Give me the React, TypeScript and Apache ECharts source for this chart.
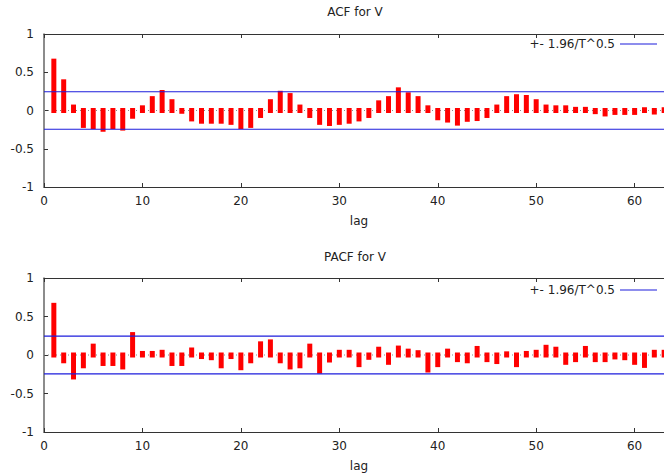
import React, { useEffect, useRef } from "react";
import * as echarts from "echarts";

const lags = [
  1, 2, 3, 4, 5, 6, 7, 8, 9, 10, 11, 12, 13, 14, 15, 16, 17, 18, 19, 20, 21,
  22, 23, 24, 25, 26, 27, 28, 29, 30, 31, 32, 33, 34, 35, 36, 37, 38, 39, 40,
  41, 42, 43, 44, 45, 46, 47, 48, 49, 50, 51, 52, 53, 54, 55, 56, 57, 58, 59,
  60, 61, 62, 63,
];

const acfValues = [
  0.645, 0.375, 0.045, -0.195, -0.21, -0.245, -0.21, -0.23, -0.075, 0.035,
  0.155, 0.235, 0.115, -0.01, -0.11, -0.14, -0.14, -0.14, -0.155, -0.21,
  -0.195, -0.065, 0.115, 0.225, 0.195, 0.045, -0.065, -0.155, -0.17, -0.155,
  -0.14, -0.11, -0.065, 0.1, 0.155, 0.27, 0.205, 0.155, 0.035, -0.095, -0.125,
  -0.165, -0.115, -0.105, -0.065, 0.045, 0.155, 0.18, 0.17, 0.115, 0.045,
  0.035, 0.035, 0.015, 0.015, -0.015, -0.045, -0.025, -0.025, -0.025, 0.01,
  -0.02, 0.01,
];

const pacfValues = [
  0.645, -0.075, -0.285, -0.14, 0.115, -0.11, -0.11, -0.155, 0.265, 0.02, 0.02,
  0.035, -0.11, -0.11, 0.065, -0.02, -0.035, -0.14, -0.02, -0.165, -0.075,
  0.145, 0.17, -0.075, -0.155, -0.14, 0.115, -0.21, -0.065, 0.035, 0.035,
  -0.125, -0.03, 0.075, -0.095, 0.09, 0.05, 0.03, -0.195, -0.125, 0.05, -0.06,
  -0.075, 0.085, -0.06, -0.085, 0.015, -0.125, 0.02, 0.035, 0.1, 0.075, -0.095,
  -0.06, 0.085, -0.06, -0.06, -0.025, -0.035, -0.095, -0.135, 0.035, 0.035,
];

const bound = 0.245; // 1.96 / T^0.5
const boundName = "+- 1.96/T^0.5";
const titles = ["ACF for V", "PACF for V"];
const xMin = 0;
const xMax = 64;

const FONT = "DejaVu Sans";
const TEXT = "#222";
const BLUE = "#1c1cdc";

export default function App() {
  const ref = useRef<HTMLDivElement>(null);

  useEffect(() => {
    if (!ref.current) return;
    const chart = echarts.init(ref.current, undefined, { renderer: "svg" });

    const grids = [
      { left: 44, top: 34, width: 630, height: 153, outerBoundsMode: "none", containLabel: false },
      { left: 44, top: 278, width: 630, height: 154, outerBoundsMode: "none", containLabel: false },
    ];

    const xAxes: any[] = [];
    const yAxes: any[] = [];
    grids.forEach((_, gi) => {
      xAxes.push({
        type: "value",
        gridIndex: gi,
        min: xMin,
        max: xMax,
        interval: 10,
        position: "bottom",
        name: "lag",
        nameLocation: "middle",
        nameGap: 28,
        nameTextStyle: { color: TEXT, fontSize: 12, fontFamily: FONT },
        axisLine: { show: true, onZero: false, lineStyle: { color: "#333", width: 1 } },
        axisTick: { show: true, inside: true, length: 4, lineStyle: { color: "#333" } },
        axisLabel: {
          margin: 8,
          color: TEXT,
          fontSize: 12,
          fontFamily: FONT,
          formatter: (v: number) => (v % 10 === 0 ? String(v) : ""),
        },
        splitLine: { show: false },
      });
      xAxes.push({
        type: "value",
        gridIndex: gi,
        min: xMin,
        max: xMax,
        interval: 10,
        position: "top",
        axisLine: { show: true, onZero: false, lineStyle: { color: "#333", width: 1 } },
        axisTick: { show: true, inside: true, length: 4, lineStyle: { color: "#333" } },
        axisLabel: { show: false },
        splitLine: { show: false },
      });
      yAxes.push({
        type: "value",
        gridIndex: gi,
        min: -1,
        max: 1,
        interval: 0.5,
        axisLine: { show: true, onZero: false, lineStyle: { color: "#666", width: 1.5 } },
        axisTick: { show: true, inside: true, length: 4, lineStyle: { color: "#333" } },
        axisLabel: { margin: 10, color: TEXT, fontSize: 12, fontFamily: FONT },
        splitLine: { show: false },
      });
    });

    // gnuplot-style impulses: thick line with square caps (2.5px overhang)
    const renderImpulse = (params: any, api: any) => {
      const lag = api.value(0);
      const v = api.value(1);
      const p0 = api.coord([lag, 0]);
      const p1 = api.coord([lag, v]);
      const half = 2.5;
      const yTop = Math.min(p0[1], p1[1]) - half;
      const yBot = Math.max(p0[1], p1[1]) + half;
      const cs = params.coordSys;
      return {
        type: "rect",
        shape: { x: p0[0] - half, y: yTop, width: half * 2, height: yBot - yTop },
        style: { fill: "#ff0000" },
        clipPath: {
          type: "rect",
          shape: { x: cs.x, y: cs.y, width: cs.width, height: cs.height },
        },
      };
    };

    const makeSeries = (values: number[], gi: number) => {
      const xi = gi * 2;
      return [
        {
          type: "custom",
          xAxisIndex: xi,
          yAxisIndex: gi,
          renderItem: renderImpulse,
          encode: { x: 0, y: 1 },
          data: lags.map((l, i) => [l, values[i]]),
          silent: true,
          z: 3,
        },
        {
          type: "line",
          xAxisIndex: xi,
          yAxisIndex: gi,
          symbol: "none",
          silent: true,
          data: [
            [xMin, 0],
            [xMax, 0],
          ],
          lineStyle: { type: [1, 3], color: "#888", width: 1 },
          z: 2,
        },
        {
          type: "line",
          name: boundName,
          xAxisIndex: xi,
          yAxisIndex: gi,
          symbol: "none",
          data: [
            [xMin, bound],
            [xMax, bound],
          ],
          itemStyle: { color: BLUE },
          lineStyle: { color: BLUE, width: 1.2 },
          z: 4,
        },
        {
          type: "line",
          name: boundName,
          xAxisIndex: xi,
          yAxisIndex: gi,
          symbol: "none",
          data: [
            [xMin, -bound],
            [xMax, -bound],
          ],
          itemStyle: { color: BLUE },
          lineStyle: { color: BLUE, width: 1.2 },
          z: 4,
        },
      ];
    };

    const legendBase = {
      data: [{ name: boundName, icon: "rect" }],
      right: 7,
      align: "right",
      orient: "horizontal",
      padding: 0,
      itemWidth: 37,
      itemHeight: 1.2,
      selectedMode: false,
      itemStyle: { color: BLUE },
      textStyle: { color: TEXT, fontSize: 12, fontFamily: FONT },
    };

    chart.setOption({
      animation: false,
      backgroundColor: "#ffffff",
      title: [
        {
          text: titles[0],
          left: 355,
          top: 6,
          textAlign: "center",
          padding: 0,
          textStyle: { color: TEXT, fontSize: 12, fontWeight: "normal", fontFamily: FONT },
        },
        {
          text: titles[1],
          left: 355,
          top: 251,
          textAlign: "center",
          padding: 0,
          textStyle: { color: TEXT, fontSize: 12, fontWeight: "normal", fontFamily: FONT },
        },
      ],
      legend: [
        { ...legendBase, top: 38 },
        { ...legendBase, top: 284 },
      ],
      grid: grids,
      xAxis: xAxes,
      yAxis: yAxes,
      series: [...makeSeries(acfValues, 0), ...makeSeries(pacfValues, 1)],
    });

    return () => {
      chart.dispose();
    };
  }, []);

  return (
    <div
      ref={ref}
      style={{ position: "absolute", left: 0, top: 0, width: 664, height: 473 }}
    />
  );
}
